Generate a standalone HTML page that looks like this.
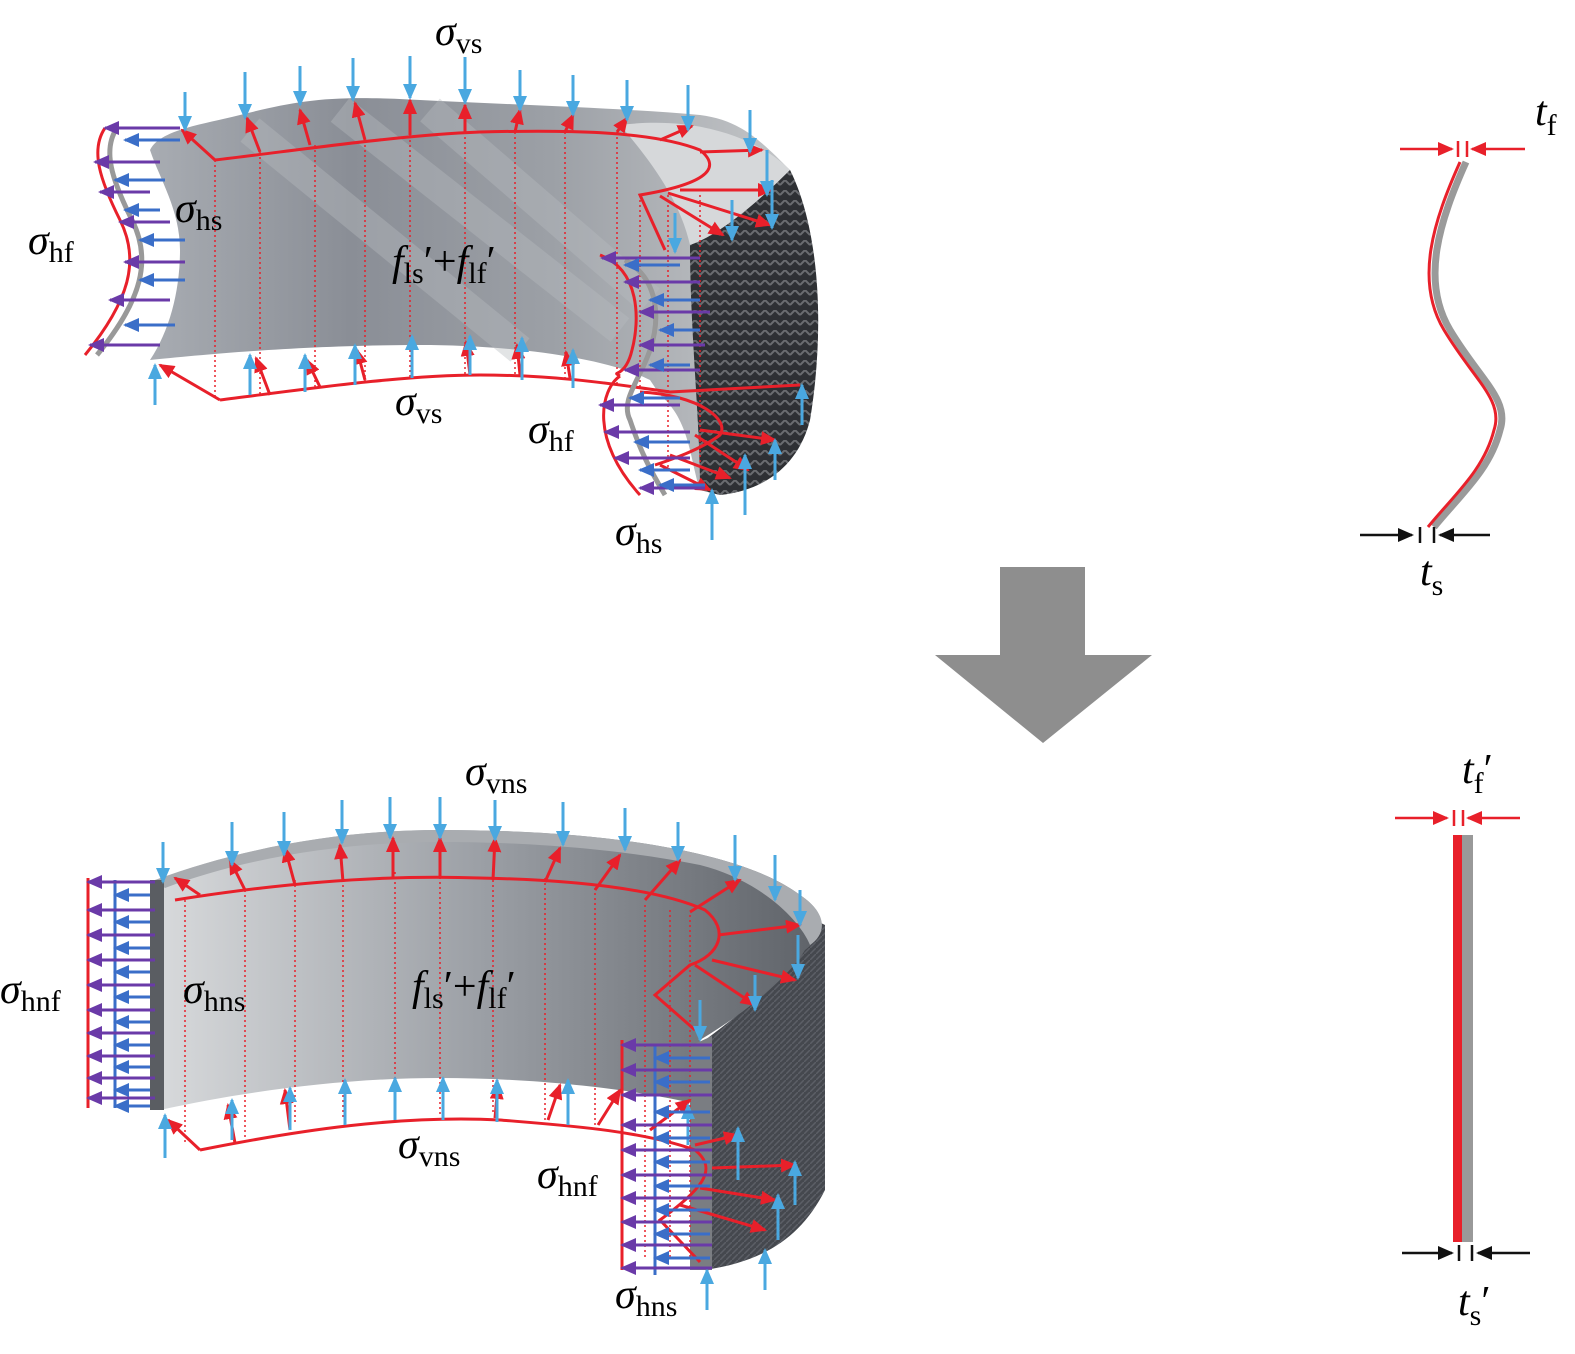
<!DOCTYPE html>
<html><head><meta charset="utf-8"><style>
html,body{margin:0;padding:0;background:#fff}
svg{display:block}
.s{font-family:"Liberation Serif",serif;font-style:italic;font-size:42px}
.b{font-family:"Liberation Serif",serif;font-style:normal;font-size:30px}
</style></head><body>
<svg width="1575" height="1354" viewBox="0 0 1575 1354" xmlns="http://www.w3.org/2000/svg">
<defs>
<marker id="r" markerWidth="16" markerHeight="14" refX="14" refY="7" orient="auto" markerUnits="userSpaceOnUse"><path d="M0,0 L16,7 L0,14 Z" fill="#e8202a"/></marker>
<marker id="lb" markerWidth="16" markerHeight="14" refX="14" refY="7" orient="auto" markerUnits="userSpaceOnUse"><path d="M0,0 L16,7 L0,14 Z" fill="#4aa8e0"/></marker>
<marker id="p" markerWidth="16" markerHeight="14" refX="14" refY="7" orient="auto" markerUnits="userSpaceOnUse"><path d="M0,0 L16,7 L0,14 Z" fill="#6a3aa8"/></marker>
<marker id="bl" markerWidth="16" markerHeight="14" refX="14" refY="7" orient="auto" markerUnits="userSpaceOnUse"><path d="M0,0 L16,7 L0,14 Z" fill="#3a6ec8"/></marker>
<marker id="k" markerWidth="16" markerHeight="14" refX="14" refY="7" orient="auto" markerUnits="userSpaceOnUse"><path d="M0,0 L16,7 L0,14 Z" fill="#111"/></marker>
<linearGradient id="g1" x1="0" y1="0" x2="1" y2="0"><stop offset="0" stop-color="#a8acb2"/><stop offset=".3" stop-color="#8a8e96"/><stop offset=".6" stop-color="#9ca0a6"/><stop offset="1" stop-color="#c8cacc"/></linearGradient>
<linearGradient id="g2" x1="0" y1="0" x2="1" y2="0"><stop offset="0" stop-color="#d8dadc"/><stop offset=".5" stop-color="#9a9ea4"/><stop offset="1" stop-color="#5e6268"/></linearGradient>
<pattern id="tx" width="10" height="10" patternUnits="userSpaceOnUse"><rect width="10" height="10" fill="#2e3034"/><path d="M0,5 L5,0 L10,5" stroke="#6a6c70" stroke-width="2" fill="none"/></pattern>
<pattern id="tx2" width="6" height="6" patternUnits="userSpaceOnUse"><rect width="6" height="6" fill="#45484e"/><path d="M0,6 L6,0" stroke="#5c5f66" stroke-width="1.5"/></pattern>
</defs>

<!-- TOP SHAPE -->
<path d="M150,150 C160,130 200,125 240,115 C300,100 330,95 420,100 C520,105 620,108 700,115 C740,120 760,140 790,170 C820,230 825,330 810,420 C800,460 770,490 720,495 L700,490 C690,460 690,420 660,395 L650,380 C600,355 500,345 420,345 C300,345 200,355 150,360 C170,330 180,290 180,250 C180,210 160,180 150,150 Z" fill="url(#g1)"/>
<path d="M620,125 C700,115 760,140 790,170 C760,200 720,235 690,245 C680,200 650,160 620,125 Z" fill="#d6d8da"/>
<path d="M690,245 C720,235 760,200 790,170 C820,230 825,330 810,420 C800,460 770,490 720,495 L700,490 C700,420 690,330 690,245 Z" fill="url(#tx)"/>
<path d="M250,130 L520,350 M340,110 L620,330 M430,110 L650,300" stroke="#b8bcc0" stroke-width="30" opacity=".4"/>
<g stroke="#e8202a" stroke-width="1.5" stroke-dasharray="2,3">
<path d="M215,160V400 M260,152V396 M315,145V388 M365,140V382 M410,135V378 M465,132V376 M515,132V376 M565,132V378 M617,132V385 M640,195V390 M668,195V470 M700,195V470"/>
</g>
<g stroke="#e8202a" stroke-width="3" fill="none">
<path d="M215,160 C300,150 400,135 480,132 C560,130 650,130 700,150 C725,170 700,185 640,195 L665,250"/>
<path d="M220,400 C300,390 400,375 480,375 C560,375 620,385 670,392 L800,385"/>
<path d="M640,392 C700,395 730,420 720,435 C700,450 670,460 655,465"/>
<path d="M85,355 C130,300 140,260 120,220 C100,180 90,150 105,128"/>
<path d="M600,255 C640,270 640,320 632,350 C625,380 610,370 620,376"/>
<path d="M620,376 C600,390 590,440 640,495"/>
</g>
<path d="M97,355 C142,300 152,260 132,220 C112,180 102,150 117,128" stroke="#999" stroke-width="5" fill="none"/>
<path d="M625,260 C660,280 660,320 650,350 C640,380 620,400 630,420 C640,450 650,470 665,495" stroke="#999" stroke-width="5" fill="none"/>
<g stroke="#e8202a" stroke-width="3" marker-end="url(#r)">
<line x1="215" y1="160" x2="182" y2="130"/><line x1="260" y1="152" x2="247" y2="118"/><line x1="310" y1="145" x2="300" y2="110"/><line x1="365" y1="140" x2="355" y2="103"/><line x1="410" y1="135" x2="410" y2="100"/><line x1="465" y1="132" x2="465" y2="105"/><line x1="515" y1="132" x2="520" y2="110"/><line x1="565" y1="132" x2="573" y2="115"/><line x1="617" y1="132" x2="627" y2="118"/><line x1="660" y1="140" x2="692" y2="126"/><line x1="700" y1="152" x2="762" y2="150"/><line x1="680" y1="190" x2="772" y2="190"/><line x1="668" y1="193" x2="770" y2="225"/><line x1="660" y1="196" x2="723" y2="235"/>
<line x1="220" y1="400" x2="160" y2="365"/><line x1="270" y1="395" x2="256" y2="358"/><line x1="320" y1="387" x2="307" y2="360"/><line x1="365" y1="380" x2="357" y2="350"/><line x1="470" y1="375" x2="466" y2="342"/><line x1="520" y1="375" x2="517" y2="345"/><line x1="570" y1="378" x2="566" y2="352"/>
<line x1="700" y1="430" x2="775" y2="440"/><line x1="695" y1="435" x2="748" y2="470"/><line x1="670" y1="455" x2="730" y2="478"/><line x1="660" y1="465" x2="710" y2="490"/>
</g>
<g stroke="#4aa8e0" stroke-width="3" marker-end="url(#lb)">
<line x1="185" y1="92" x2="185" y2="130"/><line x1="245" y1="72" x2="245" y2="118"/><line x1="300" y1="66" x2="300" y2="105"/><line x1="353" y1="58" x2="353" y2="100"/><line x1="410" y1="56" x2="410" y2="98"/><line x1="465" y1="57" x2="465" y2="103"/><line x1="520" y1="70" x2="520" y2="110"/><line x1="573" y1="75" x2="573" y2="115"/><line x1="627" y1="80" x2="627" y2="120"/><line x1="688" y1="85" x2="688" y2="130"/><line x1="750" y1="110" x2="750" y2="152"/><line x1="767" y1="150" x2="767" y2="195"/><line x1="772" y1="180" x2="772" y2="228"/><line x1="732" y1="200" x2="732" y2="240"/><line x1="675" y1="213" x2="675" y2="252"/>
<line x1="155" y1="405" x2="155" y2="365"/><line x1="250" y1="395" x2="250" y2="355"/><line x1="305" y1="392" x2="305" y2="355"/><line x1="355" y1="385" x2="355" y2="345"/><line x1="412" y1="378" x2="412" y2="336"/><line x1="470" y1="375" x2="470" y2="336"/><line x1="522" y1="380" x2="522" y2="338"/><line x1="573" y1="388" x2="573" y2="350"/><line x1="712" y1="540" x2="712" y2="490"/><line x1="745" y1="515" x2="745" y2="455"/><line x1="775" y1="480" x2="775" y2="440"/><line x1="802" y1="425" x2="802" y2="385"/>
</g>
<g stroke="#6a3aa8" stroke-width="3" marker-end="url(#p)">
<line x1="180" y1="128" x2="105" y2="128"/><line x1="160" y1="162" x2="95" y2="162"/><line x1="150" y1="192" x2="100" y2="192"/><line x1="170" y1="222" x2="120" y2="222"/><line x1="185" y1="262" x2="125" y2="262"/><line x1="170" y1="300" x2="110" y2="300"/><line x1="160" y1="345" x2="90" y2="345"/>
<line x1="700" y1="258" x2="602" y2="258"/><line x1="700" y1="282" x2="625" y2="282"/><line x1="710" y1="312" x2="640" y2="312"/><line x1="705" y1="345" x2="640" y2="345"/><line x1="700" y1="370" x2="625" y2="370"/>
<line x1="680" y1="405" x2="600" y2="405"/><line x1="690" y1="432" x2="605" y2="432"/><line x1="690" y1="458" x2="615" y2="458"/><line x1="705" y1="488" x2="640" y2="488"/>
</g>
<g stroke="#3a6ec8" stroke-width="3" marker-end="url(#bl)">
<line x1="180" y1="140" x2="125" y2="140"/><line x1="165" y1="180" x2="115" y2="180"/><line x1="160" y1="210" x2="125" y2="210"/><line x1="185" y1="240" x2="140" y2="240"/><line x1="185" y1="280" x2="140" y2="280"/><line x1="175" y1="325" x2="125" y2="325"/>
<line x1="680" y1="265" x2="625" y2="265"/><line x1="700" y1="300" x2="650" y2="300"/><line x1="700" y1="330" x2="660" y2="330"/><line x1="690" y1="365" x2="650" y2="365"/>
<line x1="680" y1="398" x2="630" y2="398"/><line x1="690" y1="442" x2="635" y2="442"/><line x1="690" y1="470" x2="640" y2="470"/><line x1="705" y1="485" x2="660" y2="485"/>
</g>
<text class="s" x="435" y="45">σ<tspan class="b" dy="8">vs</tspan></text>
<text class="s" x="175" y="222">σ<tspan class="b" dy="8">hs</tspan></text>
<text class="s" x="28" y="254">σ<tspan class="b" dy="8">hf</tspan></text>
<text class="s" x="392" y="275">f<tspan class="b" dy="8">ls</tspan><tspan dy="-8" style="font-style:normal">′+</tspan>f<tspan class="b" dy="8">lf</tspan><tspan dy="-8" style="font-style:normal">′</tspan></text>
<text class="s" x="395" y="415">σ<tspan class="b" dy="8">vs</tspan></text>
<text class="s" x="528" y="443">σ<tspan class="b" dy="8">hf</tspan></text>
<text class="s" x="615" y="545">σ<tspan class="b" dy="8">hs</tspan></text>

<path d="M1000,567 H1085 V655 H1152 L1043,743 L935,655 H1000 Z" fill="#8e8e8e"/>

<path d="M1466,162 C1440,220 1420,280 1450,330 C1480,380 1510,400 1500,430 C1490,470 1460,495 1434,527" stroke="#9a9a9a" stroke-width="7" fill="none"/>
<path d="M1460,162 C1434,220 1414,280 1444,330 C1474,380 1504,400 1494,430 C1484,470 1454,495 1428,527" stroke="#e8202a" stroke-width="3" fill="none"/>
<g stroke="#e8202a" stroke-width="2.5">
<line x1="1400" y1="149" x2="1452" y2="149" marker-end="url(#r)"/><line x1="1525" y1="149" x2="1472" y2="149" marker-end="url(#r)"/>
<line x1="1458" y1="141" x2="1458" y2="157"/><line x1="1467" y1="141" x2="1467" y2="157"/>
<line x1="1395" y1="818" x2="1447" y2="818" marker-end="url(#r)"/><line x1="1520" y1="818" x2="1468" y2="818" marker-end="url(#r)"/>
<line x1="1454" y1="810" x2="1454" y2="826"/><line x1="1463" y1="810" x2="1463" y2="826"/>
</g>
<g stroke="#111" stroke-width="2.5">
<line x1="1360" y1="535" x2="1412" y2="535" marker-end="url(#k)"/><line x1="1490" y1="535" x2="1440" y2="535" marker-end="url(#k)"/>
<line x1="1420" y1="527" x2="1420" y2="543"/><line x1="1434" y1="527" x2="1434" y2="543"/>
<line x1="1402" y1="1253" x2="1452" y2="1253" marker-end="url(#k)"/><line x1="1530" y1="1253" x2="1478" y2="1253" marker-end="url(#k)"/>
<line x1="1459" y1="1245" x2="1459" y2="1261"/><line x1="1472" y1="1245" x2="1472" y2="1261"/>
</g>
<rect x="1453" y="835" width="9" height="407" fill="#e8202a"/>
<rect x="1462" y="835" width="11" height="407" fill="#999"/>
<text class="s" x="1535" y="125">t<tspan class="b" dy="10">f</tspan></text>
<text class="s" x="1420" y="585">t<tspan class="b" dy="10">s</tspan></text>
<text class="s" x="1462" y="783">t<tspan class="b" dy="10">f</tspan><tspan dy="-10" style="font-style:normal">′</tspan></text>
<text class="s" x="1458" y="1315">t<tspan class="b" dy="10">s</tspan><tspan dy="-10" style="font-style:normal">′</tspan></text>

<!-- BOTTOM SHAPE -->
<path d="M705,1040 C760,1000 800,960 805,915 L825,925 V1190 C800,1240 760,1262 705,1270 Z" fill="url(#tx2)"/>
<path d="M155,880 C250,845 350,830 440,830 C600,830 740,850 800,895 C830,915 825,935 805,950 C790,975 750,1010 700,1040 V1105 C640,1090 540,1078 440,1078 C350,1078 250,1090 160,1110 Z" fill="url(#g2)"/>
<path d="M690,1046 L712,1036 V1270 L690,1270 Z" fill="#7a7d82"/>
<path d="M155,880 C250,845 350,830 440,830 C600,830 740,850 800,895 C830,915 825,935 810,945 C800,920 760,880 700,865 C600,845 500,842 440,842 C350,842 250,856 165,888 Z" fill="#a9acb0"/>
<rect x="150" y="880" width="14" height="230" fill="#5a5d62"/>
<g stroke="#e8202a" stroke-width="1.5" stroke-dasharray="2,3">
<path d="M185,900V1145 M245,890V1140 M295,880V1125 M343,875V1120 M395,872V1115 M440,872V1115 M493,875V1115 M545,878V1120 M595,888V1125 M645,905V1260 M670,910V1260 M690,915V1260"/>
</g>
<g stroke="#e8202a" stroke-width="3" fill="none">
<path d="M175,900 C300,880 400,875 480,878 C580,880 660,890 705,910 C730,930 720,955 690,965 L655,995 L695,1030"/>
<path d="M200,1150 C300,1130 400,1115 500,1120 C560,1125 640,1130 695,1150 C720,1170 700,1190 660,1220 L700,1262"/>
<line x1="88" y1="878" x2="88" y2="1108"/>
<line x1="622" y1="1040" x2="622" y2="1270"/>
</g>
<g stroke="#3a6ec8" stroke-width="3"><line x1="115" y1="880" x2="115" y2="1108"/><line x1="655" y1="1045" x2="655" y2="1275"/></g>
<g stroke="#e8202a" stroke-width="3" marker-end="url(#r)">
<line x1="200" y1="895" x2="175" y2="878"/><line x1="245" y1="890" x2="230" y2="860"/><line x1="295" y1="885" x2="285" y2="848"/><line x1="343" y1="882" x2="340" y2="845"/><line x1="393" y1="878" x2="393" y2="838"/><line x1="440" y1="878" x2="440" y2="838"/><line x1="493" y1="880" x2="495" y2="838"/><line x1="545" y1="882" x2="560" y2="848"/><line x1="595" y1="890" x2="620" y2="855"/><line x1="645" y1="900" x2="680" y2="860"/><line x1="690" y1="912" x2="740" y2="880"/><line x1="718" y1="935" x2="800" y2="925"/><line x1="712" y1="960" x2="795" y2="980"/><line x1="695" y1="965" x2="755" y2="1005"/>
<line x1="200" y1="1150" x2="168" y2="1120"/><line x1="235" y1="1143" x2="228" y2="1105"/><line x1="290" y1="1130" x2="285" y2="1090"/><line x1="495" y1="1118" x2="498" y2="1085"/><line x1="548" y1="1120" x2="560" y2="1085"/><line x1="598" y1="1125" x2="620" y2="1090"/><line x1="650" y1="1130" x2="690" y2="1100"/><line x1="695" y1="1145" x2="738" y2="1135"/><line x1="712" y1="1168" x2="795" y2="1165"/><line x1="700" y1="1188" x2="775" y2="1200"/><line x1="680" y1="1205" x2="765" y2="1230"/>
</g>
<g stroke="#4aa8e0" stroke-width="3" marker-end="url(#lb)">
<line x1="163" y1="842" x2="163" y2="882"/><line x1="232" y1="822" x2="232" y2="865"/><line x1="284" y1="812" x2="284" y2="855"/><line x1="342" y1="800" x2="342" y2="843"/><line x1="390" y1="797" x2="390" y2="838"/><line x1="440" y1="797" x2="440" y2="838"/><line x1="495" y1="800" x2="495" y2="840"/><line x1="563" y1="802" x2="563" y2="845"/><line x1="625" y1="808" x2="625" y2="850"/><line x1="678" y1="822" x2="678" y2="860"/><line x1="735" y1="835" x2="735" y2="880"/><line x1="775" y1="855" x2="775" y2="900"/><line x1="800" y1="890" x2="800" y2="925"/><line x1="798" y1="935" x2="798" y2="978"/><line x1="755" y1="975" x2="755" y2="1010"/><line x1="700" y1="1000" x2="700" y2="1040"/>
<line x1="165" y1="1158" x2="165" y2="1115"/><line x1="232" y1="1140" x2="232" y2="1100"/><line x1="290" y1="1130" x2="290" y2="1088"/><line x1="345" y1="1125" x2="345" y2="1080"/><line x1="395" y1="1120" x2="395" y2="1078"/><line x1="443" y1="1120" x2="443" y2="1078"/><line x1="497" y1="1122" x2="497" y2="1080"/><line x1="568" y1="1125" x2="568" y2="1080"/><line x1="688" y1="1145" x2="688" y2="1105"/><line x1="738" y1="1180" x2="738" y2="1128"/><line x1="795" y1="1205" x2="795" y2="1162"/><line x1="778" y1="1240" x2="778" y2="1195"/><line x1="765" y1="1290" x2="765" y2="1250"/><line x1="707" y1="1310" x2="707" y2="1270"/>
</g>
<g stroke="#6a3aa8" stroke-width="3" marker-end="url(#p)">
<line x1="155" y1="882" x2="88" y2="882"/><line x1="155" y1="910" x2="88" y2="910"/><line x1="155" y1="935" x2="88" y2="935"/><line x1="155" y1="960" x2="88" y2="960"/><line x1="155" y1="985" x2="88" y2="985"/><line x1="155" y1="1010" x2="88" y2="1010"/><line x1="155" y1="1033" x2="88" y2="1033"/><line x1="155" y1="1056" x2="88" y2="1056"/><line x1="155" y1="1078" x2="88" y2="1078"/><line x1="155" y1="1098" x2="88" y2="1098"/>
<line x1="712" y1="1045" x2="622" y2="1045"/><line x1="712" y1="1070" x2="622" y2="1070"/><line x1="712" y1="1095" x2="622" y2="1095"/><line x1="712" y1="1125" x2="622" y2="1125"/><line x1="712" y1="1150" x2="622" y2="1150"/><line x1="712" y1="1175" x2="622" y2="1175"/><line x1="712" y1="1198" x2="622" y2="1198"/><line x1="712" y1="1222" x2="622" y2="1222"/><line x1="712" y1="1245" x2="622" y2="1245"/><line x1="712" y1="1268" x2="622" y2="1268"/>
</g>
<g stroke="#3a6ec8" stroke-width="3" marker-end="url(#bl)">
<line x1="150" y1="895" x2="115" y2="895"/><line x1="150" y1="922" x2="115" y2="922"/><line x1="150" y1="948" x2="115" y2="948"/><line x1="150" y1="972" x2="115" y2="972"/><line x1="150" y1="997" x2="115" y2="997"/><line x1="150" y1="1022" x2="115" y2="1022"/><line x1="150" y1="1045" x2="115" y2="1045"/><line x1="150" y1="1067" x2="115" y2="1067"/><line x1="150" y1="1090" x2="115" y2="1090"/><line x1="150" y1="1106" x2="115" y2="1106"/>
<line x1="710" y1="1058" x2="655" y2="1058"/><line x1="710" y1="1082" x2="655" y2="1082"/><line x1="710" y1="1112" x2="655" y2="1112"/><line x1="710" y1="1138" x2="655" y2="1138"/><line x1="710" y1="1162" x2="655" y2="1162"/><line x1="710" y1="1186" x2="655" y2="1186"/><line x1="710" y1="1210" x2="655" y2="1210"/><line x1="710" y1="1234" x2="655" y2="1234"/><line x1="710" y1="1258" x2="655" y2="1258"/>
</g>
<text class="s" x="465" y="785">σ<tspan class="b" dy="8">vns</tspan></text>
<text class="s" x="183" y="1003">σ<tspan class="b" dy="8">hns</tspan></text>
<text class="s" x="0" y="1003">σ<tspan class="b" dy="8">hnf</tspan></text>
<text class="s" x="412" y="1000">f<tspan class="b" dy="8">ls</tspan><tspan dy="-8" style="font-style:normal">′+</tspan>f<tspan class="b" dy="8">lf</tspan><tspan dy="-8" style="font-style:normal">′</tspan></text>
<text class="s" x="398" y="1158">σ<tspan class="b" dy="8">vns</tspan></text>
<text class="s" x="537" y="1188">σ<tspan class="b" dy="8">hnf</tspan></text>
<text class="s" x="615" y="1308">σ<tspan class="b" dy="8">hns</tspan></text>
</svg>
</body></html>
